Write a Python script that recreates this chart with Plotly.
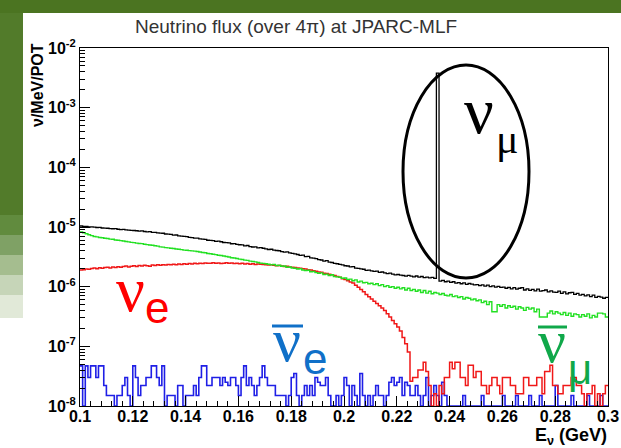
import plotly.graph_objects as go

# ---------------- data (1 MeV bins from 0.1 to 0.3 GeV, values in units of 1e-8 nu/MeV/POT) -------------
E_MIN = 0.1
E_BIN = 0.001
N_BINS = 200
UNIT = 1e-8

nu_mu = [
    1040, 1020, 1028, 1000, 1006, 995, 980, 984, 962, 958,
    952, 940, 934, 938, 916, 905, 909, 892, 888, 875,
    874, 866, 852, 858, 840, 830, 836, 812, 810, 798,
    790, 786, 764, 760, 750, 730, 734, 712, 702, 694,
    690, 672, 664, 650, 652, 630, 628, 618, 600, 596,
    590, 574, 580, 566, 550, 548, 540, 524, 528, 510,
    504, 500, 484, 490, 470, 462, 464, 446, 452, 440,
    430, 420, 424, 410, 404, 400, 388, 378, 384, 368,
    362, 354, 346, 334, 338, 318, 322, 304, 300, 294,
    284, 280, 268, 274, 258, 254, 246, 242, 236, 232,
    224, 222, 214, 216, 204, 202, 198, 196, 188, 190,
    184, 180, 182, 174, 176, 170, 166, 168, 162, 158,
    160, 156, 154, 150, 155, 150, 146, 151, 145, 148,
    142, 145, 140, 143, 138, 380000, 124, 127, 121, 124,
    118, 121, 115, 117, 112, 116, 109, 113, 110, 107,
    108, 104, 107, 102, 106, 100, 103, 98, 101, 97,
    98, 94, 97, 92, 96, 91, 94, 96, 88, 92,
    87, 90, 85, 91, 84, 86, 88, 82, 85, 81,
    80, 84, 77, 82, 76, 79, 80, 74, 77, 72,
    74, 70, 73, 68, 72, 66, 69, 67, 64, 66,
]

nu_mu_bar = [
    830, 800, 770, 742, 716, 692, 684, 668, 660, 646,
    640, 626, 622, 606, 598, 590, 582, 570, 564, 552,
    548, 536, 530, 526, 514, 506, 500, 494, 484, 478,
    464, 460, 452, 446, 440, 436, 428, 424, 418, 410,
    408, 402, 398, 394, 388, 380, 374, 370, 360, 356,
    350, 344, 336, 332, 326, 320, 314, 306, 302, 296,
    290, 286, 278, 276, 268, 264, 260, 254, 248, 246,
    242, 238, 232, 236, 226, 228, 220, 222, 212, 214,
    206, 204, 198, 200, 190, 186, 188, 178, 180, 172,
    168, 170, 160, 162, 154, 158, 148, 146, 144, 138,
    140, 132, 134, 126, 130, 120, 124, 116, 118, 112,
    114, 108, 112, 104, 108, 100, 104, 98, 100, 94,
    98, 92, 96, 88, 94, 86, 90, 84, 88, 80,
    86, 78, 84, 76, 80, 78, 74, 77, 72, 70,
    74, 68, 70, 66, 68, 62, 66, 64, 60, 62,
    58, 60, 54, 57, 50, 56, 38, 38, 50, 47,
    50, 44, 48, 45, 47, 42, 46, 44, 40, 45,
    42, 44, 38, 42, 31, 31, 31, 36, 39, 35,
    38, 36, 34, 37, 33, 36, 32, 35, 34, 31,
    34, 32, 35, 30, 33, 31, 36, 36, 35, 31,
]

nu_e = [
    190, 193, 198, 196, 202, 206, 200, 208, 204, 210,
    212, 206, 214, 210, 216, 212, 218, 222, 214, 220,
    224, 218, 226, 222, 228, 224, 220, 230, 226, 232,
    228, 234, 230, 236, 232, 238, 234, 240, 236, 242,
    238, 244, 240, 246, 242, 248, 244, 250, 246, 248,
    252, 246, 250, 244, 248, 252, 246, 250, 244, 248,
    242, 246, 240, 244, 238, 242, 236, 240, 238, 236,
    234, 230, 232, 228, 224, 226, 222, 218, 220, 214,
    212, 210, 206, 204, 200, 198, 192, 190, 184, 182,
    176, 174, 168, 166, 162, 158, 154, 148, 144, 136,
    132, 126, 120, 115, 106, 98, 90, 82, 74, 68,
    62, 57, 52, 48, 44, 40, 35, 31, 27, 24,
    21, 18, 14, 11, 8, 2.6, 3.0, 3.0, 4.0, 4.0,
    5.4, 3.8, 2.2, 0, 1.6, 0, 2.2, 1.6, 3.0, 3.0,
    5.4, 4.2, 5.4, 5.4, 3.0, 3.0, 2.2, 4.8, 4.8, 3.0,
    3.8, 3.8, 2.2, 2.2, 1.6, 2.2, 3.0, 3.0, 2.2, 1.6,
    3.0, 3.0, 3.0, 2.2, 2.2, 1.6, 1.6, 1.6, 3.0, 3.0,
    2.2, 2.2, 2.2, 3.0, 3.0, 1.6, 3.8, 3.8, 4.8, 2.2,
    2.2, 1.6, 1.6, 2.2, 2.2, 2.2, 3.0, 3.0, 2.2, 2.2,
    1.6, 0, 1.6, 1.6, 2.2, 0, 1.6, 0, 1.6, 2.2,
]

nu_e_bar = [
    4.7, 0, 4.7, 3.0, 4.7, 4.7, 3.0, 4.7, 4.7, 2.2,
    1.5, 1.5, 1.5, 0, 1.5, 1.5, 2.2, 3.0, 1.5, 0,
    4.7, 3.0, 1.5, 2.2, 2.2, 3.0, 3.0, 4.7, 4.7, 3.0,
    2.2, 4.7, 0, 1.5, 1.5, 1.5, 0, 2.2, 2.2, 0,
    1.5, 1.5, 1.5, 2.2, 1.5, 3.0, 4.7, 4.7, 2.2, 2.2,
    3.0, 3.0, 3.0, 2.2, 3.0, 2.5, 2.2, 3.0, 3.0, 2.2,
    1.5, 3.0, 4.7, 2.2, 3.0, 2.2, 1.5, 2.2, 3.0, 4.7,
    3.0, 2.2, 2.2, 2.2, 1.5, 1.5, 1.5, 1.5, 0, 1.5,
    3.0, 3.5, 1.5, 0, 1.5, 2.2, 1.5, 2.2, 1.5, 3.0,
    2.5, 2.2, 2.2, 3.0, 1.5, 0, 0, 1.5, 0, 1.5,
    3.0, 2.2, 0, 2.2, 1.5, 0, 3.5, 1.5, 0, 1.5,
    0, 1.5, 2.2, 1.5, 1.5, 0, 1.5, 2.5, 3.0, 2.2,
    2.5, 3.0, 1.5, 2.5, 2.2, 1.5, 1.5, 2.2, 1.5, 0,
    1.5, 3.0, 0, 1.5, 2.2, 1.5, 0, 2.5, 1.5, 0,
    0, 0, 0, 0, 0, 1.5, 0, 0, 0, 0,
    0, 0, 1.5, 0, 0, 0, 0, 0, 0, 0,
    1.5, 0, 0, 0, 0, 1.5, 0, 0, 0, 0,
    1.5, 0, 0, 0, 1.5, 0, 0, 0, 0, 0,
    2.2, 0, 0, 0, 0, 0, 1.5, 0, 0, 0,
    0, 0, 1.5, 0, 0, 0, 0, 1.5, 0, 0,
]

x_ticks = [0.1, 0.12, 0.14, 0.16, 0.18, 0.2, 0.22, 0.24, 0.26, 0.28, 0.3]
x_ticklabels = ["0.1", "0.12", "0.14", "0.16", "0.18", "0.2", "0.22", "0.24", "0.26", "0.28", "0.3"]
y_exponents = [-8, -7, -6, -5, -4, -3, -2]

# ---------------- figure ----------------
W, H = 621, 448
L, R, T, B = 80, 13, 48, 42
PW, PH = W - L - R, H - T - B


def px(x):
    return (x - L) / PW


def py(y):
    return (H - B - y) / PH


edges = [round(E_MIN + E_BIN * i, 4) for i in range(N_BINS + 1)]
floor = 10.0 ** y_exponents[0]


def step_y(vals):
    # empty bins are drawn on the lower frame edge, as ROOT does
    ys = [max(v * UNIT, floor) for v in vals]
    return ys + [ys[-1]]


fig = go.Figure()
series = [
    (nu_e_bar, "#1f1fe6", 1.6),
    (nu_e, "#f01818", 1.5),
    (nu_mu_bar, "#22e022", 1.4),
    (nu_mu, "#000000", 1.3),
]
for vals, col, lw in series:
    fig.add_trace(go.Scatter(x=edges, y=step_y(vals), mode="lines",
                             line=dict(color=col, width=lw, shape="hv"),
                             hoverinfo="skip", showlegend=False))

minor_y = [k * 10.0 ** e for e in y_exponents[:-1] for k in range(2, 10)]
minor_x = [round(0.1 + 0.004 * i, 4) for i in range(51)]

fig.update_layout(
    width=W, height=H,
    margin=dict(l=L, r=R, t=T, b=B, autoexpand=False),
    paper_bgcolor="white", plot_bgcolor="white",
    showlegend=False,
    xaxis=dict(range=[0.1, 0.3], tickmode="array", tickvals=x_ticks, ticktext=x_ticklabels,
               automargin=False, ticklabelstandoff=-4,
               ticks="inside", ticklen=10, tickcolor="black", showline=True, linecolor="black",
               linewidth=1, mirror=True, showgrid=False, zeroline=False,
               tickfont=dict(family="Liberation Sans", size=16, color="black", weight="bold"),
               minor=dict(tickmode="array", tickvals=minor_x, ticks="inside", ticklen=5,
                          tickcolor="black", showgrid=False)),
    yaxis=dict(type="log", range=[-8, -2], tickmode="array",
               tickvals=[10.0 ** e for e in y_exponents],
               ticktext=["10<sup>%d</sup>" % e for e in y_exponents],
               automargin=False,
               ticks="inside", ticklen=10, tickcolor="black", showline=True, linecolor="black",
               linewidth=1, mirror=True, showgrid=False, zeroline=False,
               tickfont=dict(family="Liberation Sans", size=16, color="black", weight="bold"),
               minor=dict(tickmode="array", tickvals=minor_y, ticks="inside", ticklen=5,
                          tickcolor="black", showgrid=False)),
)

shapes = []
# slide background (green frame at top and left)
shapes.append(dict(type="rect", xref="paper", yref="paper", x0=px(0), x1=px(W), y0=py(13), y1=py(0),
                   fillcolor="#4b7421", line=dict(width=0), layer="below"))
shapes.append(dict(type="rect", xref="paper", yref="paper", x0=px(0), x1=px(23), y0=py(215), y1=py(13),
                   fillcolor="#527b2a", line=dict(width=0), layer="below"))
fade = [(215, 235, "#618b3e"), (235, 255, "#7fa165"), (255, 275, "#a5bd8f"),
        (275, 295, "#c6d5b8"), (295, 318, "#e1e9d8")]
for y0, y1, c in fade:
    shapes.append(dict(type="rect", xref="paper", yref="paper", x0=px(0), x1=px(23), y0=py(y1), y1=py(y0),
                       fillcolor=c, line=dict(width=0), layer="below"))
# ellipse around the KDAR line
shapes.append(dict(type="circle", xref="paper", yref="paper", x0=px(403), x1=px(529), y0=py(278), y1=py(65),
                   line=dict(color="black", width=3)))
# overbars of antineutrino labels
shapes.append(dict(type="line", xref="paper", yref="paper", x0=px(272), x1=px(303), y0=py(326), y1=py(326),
                   line=dict(color="#1070c8", width=3)))
shapes.append(dict(type="line", xref="paper", yref="paper", x0=px(538), x1=px(567), y0=py(327), y1=py(327),
                   line=dict(color="#10a84a", width=3)))
fig.update_layout(shapes=shapes)

ann = []


def add_text(text, x, y, size, color, family="Liberation Sans", bold=False, xanchor="center", **kw):
    ann.append(dict(text=text, x=px(x), y=py(y), xref="paper", yref="paper", showarrow=False,
                    xanchor=xanchor, yanchor="middle",
                    font=dict(family=family, size=size, color=color, weight="bold" if bold else "normal"),
                    **kw))


add_text("Neutrino flux (over 4π) at JPARC-MLF", 296, 27, 19, "#333333")
add_text("ν/MeV/POT", 37, 85, 16, "black", bold=True, textangle=-90)
add_text("E<sub>ν</sub> (GeV)", 608, 436, 18, "black", bold=True, xanchor="right", borderpad=0)

# big Greek labels
add_text("ν", 130, 289, 64, "#ff0000", family="Liberation Serif")
add_text("e", 157, 307, 44, "#ff0000")
add_text("ν", 287, 340, 62, "#1070c8", family="Liberation Serif")
add_text("e", 315, 358, 44, "#1070c8")
add_text("ν", 552, 341, 62, "#10a84a", family="Liberation Serif")
add_text("μ", 580, 369, 42, "#10a84a")
add_text("ν", 479, 110, 66, "black", family="Liberation Serif")
add_text("μ", 507, 139, 42, "black", family="Liberation Serif")
fig.update_layout(annotations=ann)

fig.write_html("out.html")
